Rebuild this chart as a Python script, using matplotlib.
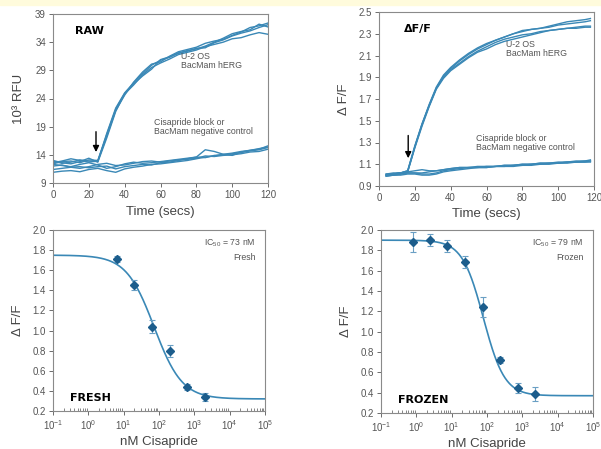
import numpy as np
import matplotlib.pyplot as plt
from matplotlib.patches import Rectangle
from matplotlib.ticker import LogLocator, FixedLocator

plt.rcParams['font.family'] = ['Liberation Sans', 'DejaVu Sans']
plt.rcParams['mathtext.default'] = 'regular'

# ---- top left: raw fluorescence traces (10^3 RFU) ----
raw_t = [0, 5, 10, 15, 20, 25, 30, 35, 40, 45, 50, 55, 60, 65, 70, 75, 80, 85, 90, 95, 100, 105, 110, 115, 120]
raw_herg = [
    [12.9, 12.5, 12.7, 13.1, 12.9, 12.8, 17.8, 22.3, 25.0, 26.8, 28.4, 29.9, 30.8, 31.3, 32.1, 32.5, 32.8, 33.3, 34.0, 34.7, 35.5, 35.9, 36.2, 37.2, 36.7],
    [12.6, 12.9, 13.3, 13.0, 12.7, 12.9, 17.3, 21.9, 24.6, 26.9, 28.7, 30.1, 30.5, 31.5, 32.3, 32.7, 33.1, 33.8, 34.2, 34.5, 35.2, 35.8, 36.6, 36.9, 37.4],
    [13.0, 12.6, 12.4, 12.8, 13.4, 12.7, 17.0, 21.7, 24.8, 26.4, 28.2, 29.5, 30.3, 31.0, 31.8, 32.2, 32.6, 33.2, 33.6, 34.0, 34.6, 34.8, 35.3, 35.7, 35.4],
    [12.4, 12.8, 12.9, 12.6, 13.1, 13.0, 17.6, 22.1, 24.9, 26.6, 28.0, 29.2, 30.9, 31.4, 32.0, 32.4, 32.9, 33.0, 33.9, 34.4, 35.1, 35.6, 36.0, 36.6, 37.1],
]
raw_ctrl = [
    [12.3, 12.1, 11.9, 12.3, 12.6, 12.2, 11.6, 11.9, 12.4, 12.7, 12.5, 12.6, 12.8, 13.0, 13.2, 13.4, 13.6, 14.9, 14.6, 14.1, 13.9, 14.5, 14.8, 15.0, 15.6],
    [11.4, 11.6, 11.8, 11.9, 11.7, 11.9, 12.0, 11.5, 11.9, 12.1, 12.3, 12.2, 12.6, 12.7, 13.0, 13.3, 13.6, 13.5, 13.9, 14.0, 14.2, 14.4, 14.7, 14.9, 15.3],
    [12.0, 12.2, 11.8, 11.6, 11.9, 12.3, 12.5, 12.1, 12.2, 12.5, 12.8, 12.9, 12.7, 12.9, 13.1, 13.2, 13.4, 13.8, 13.7, 13.9, 14.0, 14.2, 14.5, 14.6, 15.0],
    [10.9, 11.1, 11.2, 11.0, 11.4, 11.6, 11.2, 10.9, 11.5, 11.8, 12.0, 12.3, 12.4, 12.6, 12.8, 13.0, 13.3, 13.6, 13.8, 14.1, 14.3, 14.6, 14.8, 15.1, 15.4],
]

# ---- top right: normalised traces (dF/F) ----
norm_t = [4, 8, 12, 16, 20, 24, 28, 32, 36, 40, 45, 50, 55, 60, 65, 70, 75, 80, 85, 90, 95, 100, 105, 110, 115, 118]
norm_herg = [
    [1.01, 1.01, 1.02, 1.04, 1.27, 1.47, 1.65, 1.81, 1.92, 1.99, 2.06, 2.12, 2.17, 2.21, 2.24, 2.27, 2.30, 2.32, 2.34, 2.35, 2.37, 2.39, 2.41, 2.42, 2.43, 2.44],
    [1.00, 1.01, 1.02, 1.03, 1.26, 1.46, 1.64, 1.80, 1.91, 1.98, 2.05, 2.11, 2.16, 2.20, 2.24, 2.27, 2.30, 2.33, 2.34, 2.35, 2.36, 2.38, 2.39, 2.40, 2.41, 2.42],
    [1.01, 1.02, 1.02, 1.03, 1.25, 1.45, 1.63, 1.79, 1.89, 1.96, 2.02, 2.08, 2.13, 2.16, 2.20, 2.23, 2.25, 2.27, 2.29, 2.31, 2.33, 2.34, 2.35, 2.36, 2.37, 2.37],
    [1.00, 1.01, 1.02, 1.04, 1.26, 1.47, 1.64, 1.80, 1.90, 1.97, 2.03, 2.09, 2.14, 2.18, 2.22, 2.25, 2.27, 2.29, 2.30, 2.32, 2.33, 2.34, 2.35, 2.35, 2.36, 2.36],
]
norm_ctrl = [
    [1.00, 1.01, 1.02, 1.03, 1.04, 1.05, 1.04, 1.04, 1.05, 1.06, 1.07, 1.07, 1.07, 1.08, 1.08, 1.09, 1.09, 1.10, 1.10, 1.11, 1.11, 1.12, 1.12, 1.13, 1.13, 1.14],
    [0.99, 1.00, 1.01, 1.02, 1.02, 1.02, 1.03, 1.04, 1.05, 1.06, 1.07, 1.07, 1.08, 1.08, 1.08, 1.09, 1.09, 1.10, 1.10, 1.11, 1.11, 1.11, 1.12, 1.12, 1.13, 1.13],
    [1.00, 1.00, 1.01, 1.02, 1.02, 1.01, 1.01, 1.02, 1.04, 1.05, 1.06, 1.07, 1.07, 1.07, 1.08, 1.08, 1.09, 1.09, 1.10, 1.10, 1.11, 1.11, 1.12, 1.12, 1.12, 1.13],
    [0.99, 1.00, 1.00, 1.01, 1.01, 1.00, 1.00, 1.01, 1.03, 1.04, 1.05, 1.06, 1.07, 1.07, 1.08, 1.08, 1.08, 1.09, 1.09, 1.10, 1.10, 1.11, 1.11, 1.12, 1.12, 1.12],
]

# ---- bottom: dose response ----
fresh_conc = [6.3, 20, 63, 200, 630, 2000]
fresh_resp = [1.71, 1.45, 1.04, 0.80, 0.44, 0.335]
fresh_err = [0.03, 0.05, 0.06, 0.06, 0.03, 0.04]
fresh_fit = dict(top=1.75, bottom=0.32, ic50=73, hill=1.1)

frozen_conc = [0.78, 2.4, 7.6, 24, 76, 230, 760, 2300]
frozen_resp = [1.885, 1.898, 1.846, 1.688, 1.244, 0.725, 0.446, 0.387]
frozen_err = [0.10, 0.06, 0.06, 0.06, 0.10, 0.03, 0.05, 0.07]
frozen_fit = dict(top=1.90, bottom=0.37, ic50=79, hill=1.45)

line_col = '#3a88b6'
mark_col = '#1c5d8c'
tick_col = '#555555'
spine_col = '#8a8a8a'

fig = plt.figure(figsize=(6.01, 4.49), dpi=100)
fig.patches.append(Rectangle((0, 1 - 5 / 449), 1, 5 / 449, transform=fig.transFigure,
                             color='#fffbdc', zorder=0))


def style(ax):
    for s in ax.spines.values():
        s.set_color(spine_col)
        s.set_linewidth(0.8)
    ax.tick_params(colors=tick_col, labelsize=7, length=3, width=0.6, direction='out', pad=2)


def axes_px(l, r, t, b):
    return fig.add_axes([l / 601, 1 - b / 449, (r - l) / 601, (b - t) / 449])


# top left
ax1 = axes_px(53, 268, 14, 183)
for tr in raw_ctrl:
    ax1.plot(raw_t, tr, color=line_col, lw=1.0)
for tr in raw_herg:
    ax1.plot(raw_t, tr, color=line_col, lw=1.0)
ax1.set_xlim(0, 120)
ax1.set_ylim(9, 39)
ax1.set_xticks(range(0, 121, 20))
ax1.set_yticks(range(9, 40, 5))
style(ax1)
ax1.set_xlabel('Time (secs)', fontsize=9.5, color='#444444', labelpad=4)
ax1.set_ylabel('10³ RFU', fontsize=9.5, color='#444444', labelpad=7)
ax1.text(0.1, 0.9, 'RAW', transform=ax1.transAxes, fontsize=8, fontweight='bold',
         family='DejaVu Sans', va='center')
ax1.text(0.595, 0.72, 'U-2 OS\nBacMam hERG', transform=ax1.transAxes, fontsize=6.3,
         color='#555555', va='center', linespacing=1.0)
ax1.text(0.47, 0.33, 'Cisapride block or\nBacMam negative control', transform=ax1.transAxes,
         fontsize=6.3, color='#555555', va='center', linespacing=1.0)
ax1.annotate('', xy=(24, 14.0), xytext=(24, 18.6),
             arrowprops=dict(arrowstyle='-|>', color='black', lw=1.0, mutation_scale=9))

# top right
ax2 = axes_px(379, 594, 12, 186)
for tr in norm_ctrl:
    ax2.plot(norm_t, tr, color=line_col, lw=1.0)
for tr in norm_herg:
    ax2.plot(norm_t, tr, color=line_col, lw=1.0)
ax2.set_xlim(0, 120)
ax2.set_ylim(0.9, 2.5)
ax2.set_xticks(range(0, 121, 20))
ax2.set_yticks(np.round(np.arange(0.9, 2.51, 0.2), 1))
ax2.yaxis.set_major_formatter(plt.FormatStrFormatter('%.1f'))
style(ax2)
ax2.set_xlabel('Time (secs)', fontsize=9.5, color='#444444', labelpad=4)
ax2.set_ylabel('Δ F/F', fontsize=9.5, color='#444444', labelpad=6)
ax2.text(0.115, 0.9, 'ΔF/F', transform=ax2.transAxes, fontsize=8, fontweight='bold',
         family='DejaVu Sans', va='center')
ax2.text(0.59, 0.79, 'U-2 OS\nBacMam hERG', transform=ax2.transAxes, fontsize=6.3,
         color='#555555', va='center', linespacing=1.0)
ax2.text(0.45, 0.245, 'Cisapride block or\nBacMam negative control', transform=ax2.transAxes,
         fontsize=6.3, color='#555555', va='center', linespacing=1.0)
ax2.annotate('', xy=(16.3, 1.13), xytext=(16.3, 1.39),
             arrowprops=dict(arrowstyle='-|>', color='black', lw=1.0, mutation_scale=9))


def dose_panel(ax, conc, resp, err, fit, ic_text, name, big):
    xs = np.logspace(-1, 5, 300)
    ys = fit['bottom'] + (fit['top'] - fit['bottom']) / (1 + (xs / fit['ic50']) ** fit['hill'])
    ax.plot(xs, ys, color=line_col, lw=1.2, zorder=2)
    ax.errorbar(conc, resp, yerr=err, fmt='D', color=mark_col, ms=4.5, ecolor='#6a9fc4',
                elinewidth=0.8, capsize=2, capthick=0.8, zorder=3)
    ax.set_xscale('log')
    ax.set_xlim(0.1, 1e5)
    ax.set_ylim(0.2, 2.0)
    ax.set_yticks(np.round(np.arange(0.2, 2.01, 0.2), 1))
    ax.yaxis.set_major_formatter(plt.FormatStrFormatter('%.1f'))
    ax.xaxis.set_major_locator(FixedLocator([10.0 ** k for k in range(-1, 6)]))
    ax.xaxis.set_minor_locator(LogLocator(base=10, subs=np.arange(2, 10), numticks=20))
    style(ax)
    ax.tick_params(axis='x', which='minor', direction='in', length=2, width=0.5, colors=tick_col)
    ax.set_xlabel('nM Cisapride', fontsize=9.5, color='#444444', labelpad=3)
    ax.set_ylabel('Δ F/F', fontsize=9.5, color='#444444', labelpad=6)
    ax.text(0.955, 0.925, ic_text, transform=ax.transAxes, fontsize=6.3, color='#555555',
            ha='right', va='center')
    ax.text(0.955, 0.85, name, transform=ax.transAxes, fontsize=6.3, color='#555555',
            ha='right', va='center')
    ax.text(0.08, 0.045, big, transform=ax.transAxes, fontsize=8, fontweight='bold',
            family='DejaVu Sans', va='bottom')


ax3 = axes_px(53, 265, 230, 411)
dose_panel(ax3, fresh_conc, fresh_resp, fresh_err, fresh_fit, 'IC$_{50}$ = 73 nM', 'Fresh', 'FRESH')
ax4 = axes_px(381, 593, 230, 413)
dose_panel(ax4, frozen_conc, frozen_resp, frozen_err, frozen_fit, 'IC$_{50}$ = 79 nM', 'Frozen', 'FROZEN')

fig.savefig('out.png', dpi=100)
